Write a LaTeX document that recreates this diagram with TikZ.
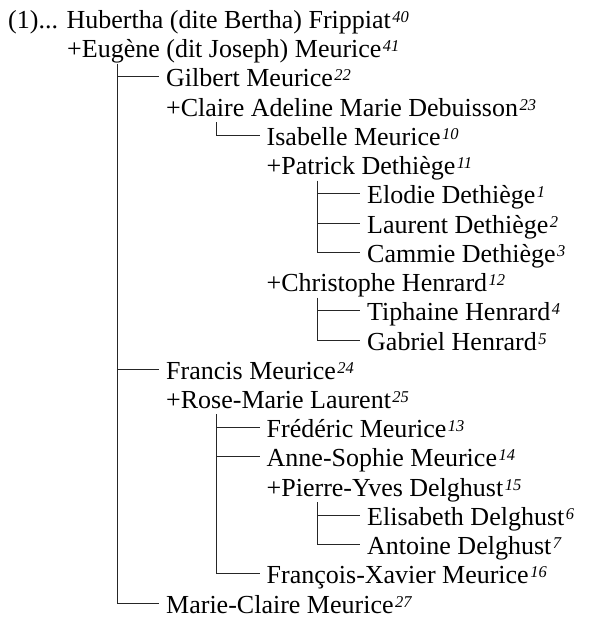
\documentclass[tikz,border=0pt]{standalone}
\usepackage{fontspec}
\setmainfont{Liberation Serif}
\usepackage{tikz}

\newcommand{\sosa}[1]{\hspace{1.5pt}\raisebox{6pt}{\fontsize{16.5}{16.5}\selectfont\itshape #1}}

\begin{document}
\begin{tikzpicture}[x=1pt, y=-29.23pt,
  person/.style={anchor=base west, inner sep=0pt, text height=20pt, text depth=0pt,
                 font=\fontsize{26}{30}\selectfont},
  branch/.style={line width=1pt, black!85, shorten >=7pt}]
  \useasboundingbox (0, -0.975) rectangle (588, 20.27);
  % generation 0
  \node[person] (hubertha) at (8, 0) {(1)... Hubertha (dite Bertha) Frippiat\sosa{40}};
  \node[person] (eugene) at (67, 1) {+Eug\`ene (dit Joseph) Meurice\sosa{41}};
  % generation 1
  \node[person] (gilbert) at (166, 2) {Gilbert Meurice\sosa{22}};
  \node[person] (claire) at (166, 3) {+Claire Adeline Marie Debuisson\sosa{23}};
  \node[person] (francis) at (166, 12) {Francis Meurice\sosa{24}};
  \node[person] (rosemarie) at (166, 13) {+Rose-Marie Laurent\sosa{25}};
  \node[person] (marieclaire) at (166, 20) {Marie-Claire Meurice\sosa{27}};
  % generation 2
  \node[person] (isabelle) at (266.5, 4) {Isabelle Meurice\sosa{10}};
  \node[person] (patrick) at (266.5, 5) {+Patrick Dethi\`ege\sosa{11}};
  \node[person] (christophe) at (266.5, 9) {+Christophe Henrard\sosa{12}};
  \node[person] (frederic) at (266.5, 14) {Fr\'ed\'eric Meurice\sosa{13}};
  \node[person] (annesophie) at (266.5, 15) {Anne-Sophie Meurice\sosa{14}};
  \node[person] (pierreyves) at (266.5, 16) {+Pierre-Yves Delghust\sosa{15}};
  \node[person] (francoisx) at (266.5, 19) {Fran\c{c}ois-Xavier Meurice\sosa{16}};
  % generation 3
  \node[person] (elodie) at (367, 6) {Elodie Dethi\`ege\sosa{1}};
  \node[person] (laurent) at (367, 7) {Laurent Dethi\`ege\sosa{2}};
  \node[person] (cammie) at (367, 8) {Cammie Dethi\`ege\sosa{3}};
  \node[person] (tiphaine) at (367, 10) {Tiphaine Henrard\sosa{4}};
  \node[person] (gabriel) at (367, 11) {Gabriel Henrard\sosa{5}};
  \node[person] (elisabeth) at (367, 17) {Elisabeth Delghust\sosa{6}};
  \node[person] (antoine) at (367, 18) {Antoine Delghust\sosa{7}};

  % tops of the descent lines, under each couple
  \coordinate (eugene-v) at ([xshift=50pt, yshift=-6pt]eugene.base west);
  \coordinate (claire-v) at ([xshift=50.5pt, yshift=-6pt]claire.base west);
  \coordinate (patrick-v) at ([xshift=50.5pt, yshift=-6pt]patrick.base west);
  \coordinate (christophe-v) at ([xshift=50.5pt, yshift=-6pt]christophe.base west);
  \coordinate (rosemarie-v) at ([xshift=50.5pt, yshift=-6pt]rosemarie.base west);
  \coordinate (pierreyves-v) at ([xshift=50.5pt, yshift=-6pt]pierreyves.base west);

  \draw[branch] (eugene-v) |- (marieclaire.west);
  \foreach \c in {gilbert, francis}
    \draw[branch] (eugene-v |- \c.west) -- (\c.west);
  \draw[branch] (claire-v) |- (isabelle.west);
  \draw[branch] (patrick-v) |- (cammie.west);
  \foreach \c in {elodie, laurent}
    \draw[branch] (patrick-v |- \c.west) -- (\c.west);
  \draw[branch] (christophe-v) |- (gabriel.west);
  \draw[branch] (christophe-v |- tiphaine.west) -- (tiphaine.west);
  \draw[branch] (rosemarie-v) |- (francoisx.west);
  \foreach \c in {frederic, annesophie}
    \draw[branch] (rosemarie-v |- \c.west) -- (\c.west);
  \draw[branch] (pierreyves-v) |- (antoine.west);
  \draw[branch] (pierreyves-v |- elisabeth.west) -- (elisabeth.west);
\end{tikzpicture}
\end{document}
